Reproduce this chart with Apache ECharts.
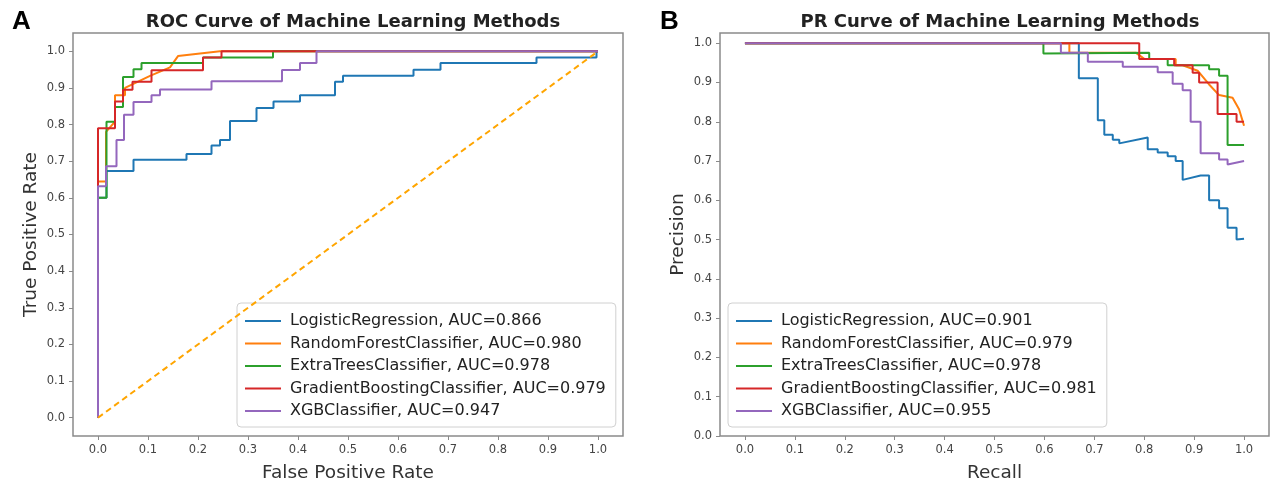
<!DOCTYPE html>
<html>
<head>
<meta charset="utf-8">
<script src="https://cdn.jsdelivr.net/npm/echarts@6/dist/echarts.min.js"></script>
<style>
html,body{margin:0;padding:0;background:#fff;}
#chart{width:1270px;height:488px;}
</style>
</head>
<body>
<div id="chart"></div>
<script>
// ---- tick labels ----
const tickValues = [0, 0.1, 0.2, 0.3, 0.4, 0.5, 0.6, 0.7, 0.8, 0.9, 1.0];

// ---- ROC data (FPR / TPR) ----
const rocNames = [
  'LogisticRegression, AUC=0.866',
  'RandomForestClassifier, AUC=0.980',
  'ExtraTreesClassifier, AUC=0.978',
  'GradientBoostingClassifier, AUC=0.979',
  'XGBClassifier, AUC=0.947'
];
const rocLR_fpr = [0, 0, 0.017, 0.017, 0.071, 0.071, 0.177, 0.177, 0.227, 0.227, 0.244, 0.244, 0.264, 0.264, 0.317, 0.317, 0.351, 0.351, 0.404, 0.404, 0.474, 0.474, 0.49, 0.49, 0.631, 0.631, 0.685, 0.685, 0.877, 0.877, 0.997, 0.997, 1];
const rocLR_tpr = [0, 0.6, 0.6, 0.673, 0.673, 0.704, 0.704, 0.72, 0.72, 0.743, 0.743, 0.758, 0.758, 0.81, 0.81, 0.845, 0.845, 0.863, 0.863, 0.88, 0.88, 0.917, 0.917, 0.933, 0.933, 0.95, 0.95, 0.968, 0.968, 0.983, 0.983, 1, 1];
const rocRF_fpr = [0, 0, 0.016, 0.016, 0.034, 0.034, 0.054, 0.054, 0.104, 0.144, 0.16, 0.244, 1];
const rocRF_tpr = [0, 0.645, 0.645, 0.78, 0.808, 0.88, 0.88, 0.9, 0.933, 0.956, 0.987, 1, 1];
const rocET_fpr = [0, 0, 0.017, 0.017, 0.034, 0.034, 0.05, 0.05, 0.071, 0.071, 0.087, 0.087, 0.21, 0.21, 0.35, 0.35, 1];
const rocET_tpr = [0, 0.6, 0.6, 0.808, 0.808, 0.848, 0.848, 0.93, 0.93, 0.951, 0.951, 0.968, 0.968, 0.983, 0.983, 1, 1];
const rocGB_fpr = [0, 0, 0.034, 0.034, 0.05, 0.05, 0.069, 0.069, 0.107, 0.107, 0.21, 0.21, 0.247, 0.247, 1];
const rocGB_tpr = [0, 0.79, 0.79, 0.863, 0.863, 0.895, 0.895, 0.917, 0.917, 0.948, 0.948, 0.983, 0.983, 1, 1];
const rocXGB_fpr = [0, 0, 0.016, 0.016, 0.037, 0.037, 0.052, 0.052, 0.071, 0.071, 0.107, 0.107, 0.124, 0.124, 0.227, 0.227, 0.368, 0.368, 0.404, 0.404, 0.437, 0.437, 1];
const rocXGB_tpr = [0, 0.632, 0.632, 0.686, 0.686, 0.758, 0.758, 0.827, 0.827, 0.862, 0.862, 0.88, 0.88, 0.896, 0.896, 0.918, 0.918, 0.949, 0.949, 0.968, 0.968, 1, 1];
const chanceX = [0, 1];
const chanceY = [0, 1];

// ---- PR data (Recall / Precision) ----
const prNames = [
  'LogisticRegression, AUC=0.901',
  'RandomForestClassifier, AUC=0.979',
  'ExtraTreesClassifier, AUC=0.978',
  'GradientBoostingClassifier, AUC=0.981',
  'XGBClassifier, AUC=0.955'
];
const prLR_rec = [0, 0.669, 0.669, 0.707, 0.707, 0.72, 0.72, 0.737, 0.737, 0.75, 0.75, 0.807, 0.807, 0.827, 0.827, 0.847, 0.847, 0.863, 0.863, 0.877, 0.877, 0.913, 0.93, 0.93, 0.95, 0.95, 0.967, 0.967, 0.985, 0.985, 1.0];
const prLR_pre = [1, 1, 0.911, 0.911, 0.804, 0.804, 0.767, 0.767, 0.754, 0.754, 0.745, 0.76, 0.73, 0.73, 0.722, 0.722, 0.712, 0.712, 0.70, 0.70, 0.652, 0.663, 0.663, 0.60, 0.60, 0.58, 0.58, 0.53, 0.53, 0.50, 0.502];
const prRF_rec = [0, 0.65, 0.65, 0.783, 0.80, 0.863, 0.863, 0.877, 0.907, 0.93, 0.95, 0.977, 0.99, 1.0];
const prRF_pre = [1, 1, 0.976, 0.976, 0.96, 0.96, 0.944, 0.944, 0.93, 0.895, 0.868, 0.861, 0.832, 0.79];
const prET_rec = [0, 0.598, 0.598, 0.81, 0.81, 0.847, 0.847, 0.93, 0.93, 0.95, 0.95, 0.967, 0.967, 1.0];
const prET_pre = [1, 1, 0.974, 0.976, 0.96, 0.96, 0.944, 0.944, 0.934, 0.934, 0.917, 0.917, 0.741, 0.741];
const prGB_rec = [0, 0.79, 0.79, 0.86, 0.86, 0.897, 0.897, 0.91, 0.91, 0.947, 0.947, 0.985, 0.985, 1.0];
const prGB_pre = [1, 1, 0.96, 0.96, 0.944, 0.944, 0.925, 0.925, 0.90, 0.90, 0.82, 0.82, 0.80, 0.80];
const prXGB_rec = [0, 0.633, 0.633, 0.687, 0.687, 0.757, 0.757, 0.827, 0.827, 0.857, 0.857, 0.877, 0.877, 0.893, 0.893, 0.913, 0.913, 0.95, 0.95, 0.967, 0.967, 1.0];
const prXGB_pre = [1, 1, 0.976, 0.976, 0.953, 0.953, 0.94, 0.94, 0.926, 0.926, 0.897, 0.897, 0.88, 0.88, 0.80, 0.80, 0.72, 0.72, 0.704, 0.704, 0.691, 0.70];

const colors = ['#1f77b4', '#ff7f0e', '#2ca02c', '#d62728', '#9467bd'];

function zip(xs, ys) { return xs.map((x, i) => [x, ys[i]]); }

const rocSets = [[rocLR_fpr, rocLR_tpr], [rocRF_fpr, rocRF_tpr], [rocET_fpr, rocET_tpr], [rocGB_fpr, rocGB_tpr], [rocXGB_fpr, rocXGB_tpr]];
const prSets = [[prLR_rec, prLR_pre], [prRF_rec, prRF_pre], [prET_rec, prET_pre], [prGB_rec, prGB_pre], [prXGB_rec, prXGB_pre]];

const FONT = 'DejaVu Sans';
const frameColor = '#8a8a8a';

function makeX(gi, name) {
  return {
    type: 'value', gridIndex: gi, min: -0.05, max: 1.05,
    name: name, nameLocation: 'middle', nameGap: 28,
    nameTextStyle: { fontFamily: FONT, fontSize: 18.5, color: '#333' },
    axisLine: { show: false, onZero: false },
    axisTick: { show: true, customValues: tickValues, length: 4, lineStyle: { color: frameColor, width: 1 } },
    axisLabel: { customValues: tickValues, margin: 8, fontFamily: FONT, fontSize: 11.5, color: '#444',
      formatter: v => v.toFixed(1) },
    splitLine: { show: false }
  };
}
function makeY(gi, name, min, max) {
  return {
    type: 'value', gridIndex: gi, min: min, max: max,
    name: name, nameLocation: 'middle', nameGap: 32,
    nameTextStyle: { fontFamily: FONT, fontSize: 18.5, color: '#333' },
    axisLine: { show: false, onZero: false },
    axisTick: { show: true, customValues: tickValues, length: 4, lineStyle: { color: frameColor, width: 1 } },
    axisLabel: { customValues: tickValues, margin: 8, fontFamily: FONT, fontSize: 11.5, color: '#444',
      formatter: v => v.toFixed(1) },
    splitLine: { show: false }
  };
}

const series = [];
rocSets.forEach((s, i) => {
  series.push({
    name: rocNames[i], type: 'line', xAxisIndex: 0, yAxisIndex: 0,
    data: zip(s[0], s[1]), symbol: 'none', animation: false,
    lineStyle: { color: colors[i], width: 2 }, itemStyle: { color: colors[i] }, z: 2 + i
  });
});
series.push({
  name: 'chance', type: 'line', xAxisIndex: 0, yAxisIndex: 0,
  data: zip(chanceX, chanceY), symbol: 'none', animation: false,
  lineStyle: { color: '#FFA500', width: 2, type: [6, 4] }, z: 10
});
prSets.forEach((s, i) => {
  series.push({
    name: prNames[i], type: 'line', xAxisIndex: 1, yAxisIndex: 1,
    data: zip(s[0], s[1]), symbol: 'none', animation: false,
    lineStyle: { color: colors[i], width: 2 }, itemStyle: { color: colors[i] }, z: 2 + i
  });
});

const legendCommon = {
  orient: 'vertical', icon: 'rect', itemWidth: 36, itemHeight: 2,
  itemGap: 6.5, backgroundColor: 'rgba(255,255,255,0.85)', borderColor: '#d0d0d0',
  borderWidth: 1, borderRadius: 4, padding: [10, 10, 8, 8],
  textStyle: { fontFamily: FONT, fontSize: 16, color: '#222', padding: [0, 0, 0, 4] },
  selectedMode: false
};

const chart = echarts.init(document.getElementById('chart'), null, { renderer: 'canvas' });
chart.setOption({
  backgroundColor: '#fff',
  animation: false,
  title: [
    { text: 'A', left: 7, top: 4, textStyle: { fontFamily: 'Liberation Sans', fontWeight: 'bold', fontSize: 26, color: '#000' } },
    { text: 'B', left: 655, top: 4, textStyle: { fontFamily: 'Liberation Sans', fontWeight: 'bold', fontSize: 26, color: '#000' } },
    { text: 'ROC Curve of Machine Learning Methods', left: 348, top: 8, textAlign: 'center',
      textStyle: { fontFamily: FONT, fontWeight: 'bold', fontSize: 18, color: '#222' } },
    { text: 'PR Curve of Machine Learning Methods', left: 995, top: 8, textAlign: 'center',
      textStyle: { fontFamily: FONT, fontWeight: 'bold', fontSize: 18, color: '#222' } }
  ],
  grid: [
    { left: 73, top: 33, width: 550, height: 408, show: true, borderColor: frameColor, borderWidth: 1.5, backgroundColor: 'transparent' },
    { left: 720, top: 33, width: 549, height: 408, show: true, borderColor: frameColor, borderWidth: 1.5, backgroundColor: 'transparent' }
  ],
  xAxis: [makeX(0, 'False Positive Rate'), makeX(1, 'Recall')],
  yAxis: [makeY(0, 'True Positive Rate', -0.05, 1.05), makeY(1, 'Precision', 0, 1.026)],
  legend: [
    Object.assign({}, legendCommon, { left: 237, top: 303, data: rocNames }),
    Object.assign({}, legendCommon, { left: 728, top: 303, data: prNames })
  ],
  series: series
});
</script>
</body>
</html>
